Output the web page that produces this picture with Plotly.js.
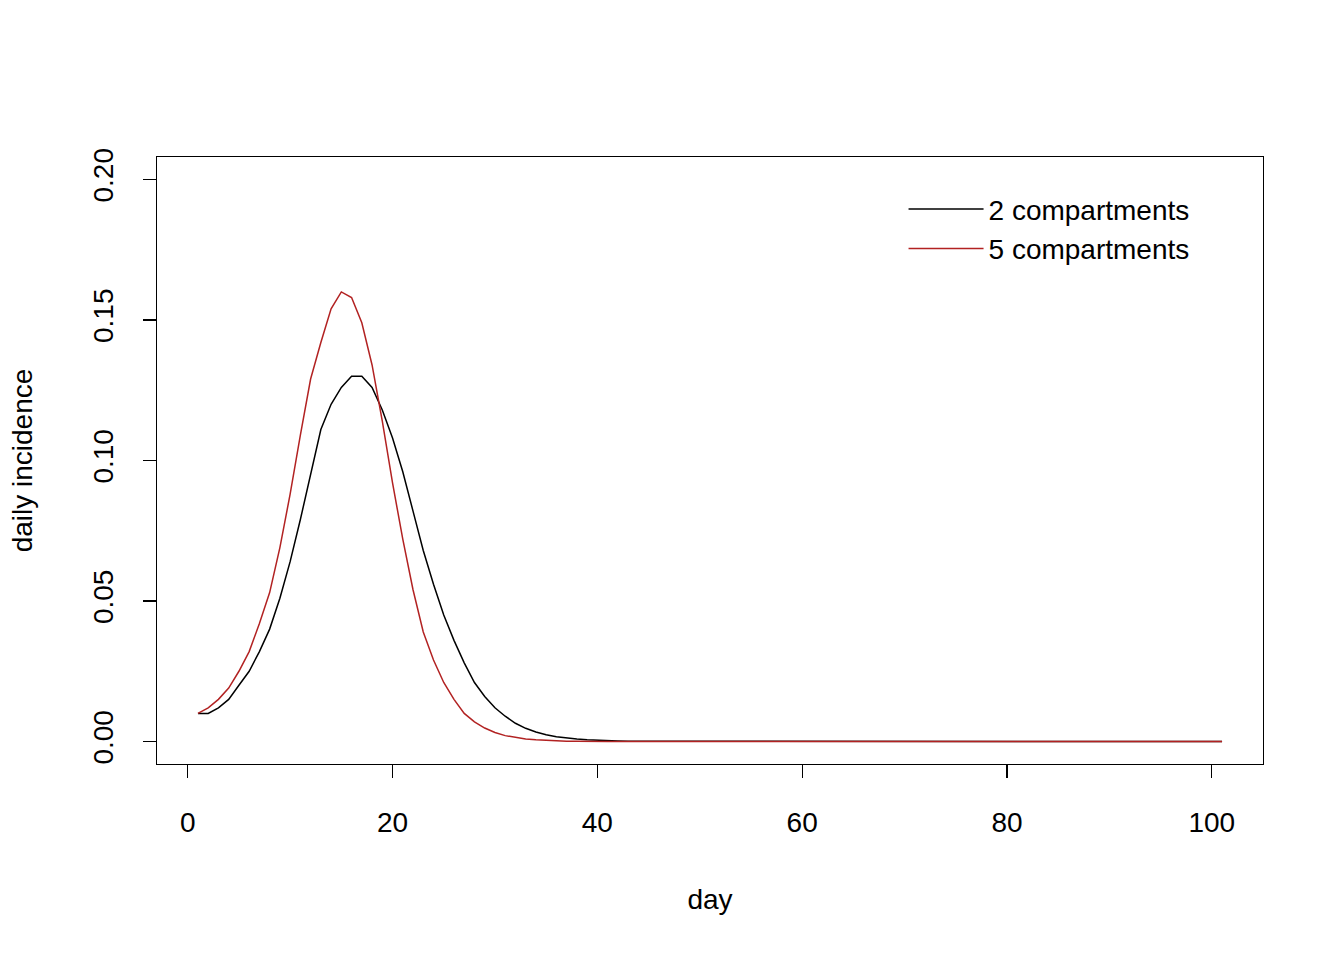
<!DOCTYPE html>
<html>
<head>
<meta charset="utf-8">
<script src="https://cdn.plot.ly/plotly-3.0.1.min.js"></script>
<style>body{margin:0;background:#fff}#plot{width:1344px;height:960px}</style>
</head>
<body>
<div id="plot"></div>
<script>
// days 1..101
var days = [];
for (var i = 1; i <= 101; i++) days.push(i);

var twoComp = [0.010,0.010,0.012,0.015,0.020,0.025,0.032,0.040,0.051,0.064,
  0.079,0.095,0.111,0.120,0.126,0.130,0.130,0.126,0.118,0.108,
  0.096,0.082,0.068,0.056,0.045,0.036,0.028,0.021,0.016,0.012,
  0.009,0.0065,0.0047,0.0034,0.0024,0.0017,0.0012,0.0009,0.0006,0.0004,
  0.0003,0.0002,0.0001,0.0001,0,0,0,0,0,0,
  0,0,0,0,0,0,0,0,0,0,0,0,0,0,0,0,0,0,0,0,
  0,0,0,0,0,0,0,0,0,0,0,0,0,0,0,0,0,0,0,0,
  0,0,0,0,0,0,0,0,0,0,0];

var fiveComp = [0.010,0.012,0.015,0.019,0.025,0.032,0.042,0.053,0.069,0.088,
  0.109,0.129,0.142,0.154,0.160,0.158,0.149,0.134,0.114,0.092,
  0.072,0.054,0.039,0.029,0.021,0.015,0.010,0.007,0.0048,0.0032,
  0.0021,0.0014,0.0009,0.0006,0.0004,0.0002,0.0001,0.0001,0,0,
  0,0,0,0,0,0,0,0,0,0,
  0,0,0,0,0,0,0,0,0,0,0,0,0,0,0,0,0,0,0,0,
  0,0,0,0,0,0,0,0,0,0,0,0,0,0,0,0,0,0,0,0,
  0,0,0,0,0,0,0,0,0,0,0];

var xTicks = [0, 20, 40, 60, 80, 100];
var yTicks = [0, 0.05, 0.10, 0.15, 0.20];

var data = [
  {x: days, y: twoComp, type: 'scatter', mode: 'lines', name: '2 compartments',
   line: {color: '#000000', width: 1.5}},
  {x: days, y: fiveComp, type: 'scatter', mode: 'lines', name: '5 compartments',
   line: {color: '#B22222', width: 1.5}}
];

var axisBase = {
  showline: true, mirror: true, linecolor: '#000', linewidth: 1.3,
  ticks: 'outside', ticklen: 13, tickwidth: 1.3, tickcolor: '#000',
  showgrid: false, zeroline: false, automargin: false
};

var layout = {
  width: 1344, height: 960,
  margin: {l: 157, r: 81, t: 157, b: 196},
  paper_bgcolor: '#fff', plot_bgcolor: '#fff',
  font: {family: 'Liberation Sans, Arial, sans-serif', size: 28, color: '#000'},
  showlegend: true,
  legend: {x: 0.675, y: 0.955, xanchor: 'left', yanchor: 'top', itemwidth: 75,
    bgcolor: 'rgba(0,0,0,0)', font: {size: 28}},
  xaxis: Object.assign({}, axisBase, {
    range: [-3, 105], tickvals: xTicks, ticklabelstandoff: 20,
    title: {text: 'day', standoff: 52, font: {size: 28}}
  }),
  yaxis: Object.assign({}, axisBase, {
    range: [-0.008, 0.208], tickvals: yTicks, tickformat: '.2f', tickangle: -90,
    ticklabelstandoff: 19,
    title: {text: 'daily incidence', standoff: 46, font: {size: 28}}
  })
};

Plotly.newPlot('plot', data, layout, {staticPlot: true});
</script>
</body>
</html>
